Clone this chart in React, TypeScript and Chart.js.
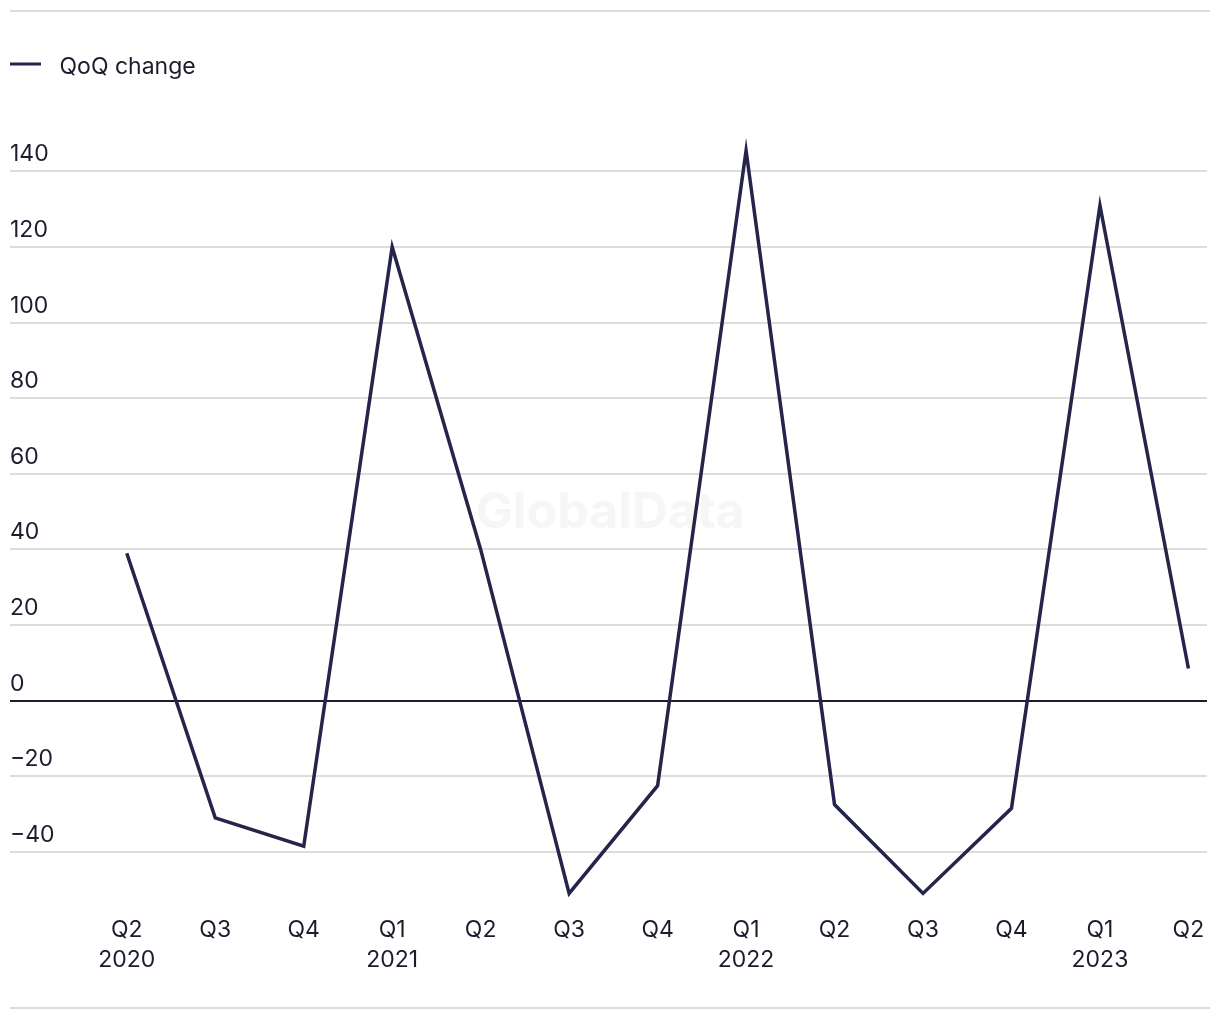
import React, { useEffect, useRef } from "react";
import { Chart, registerables } from "chart.js";

Chart.register(...registerables);

const quarterLabels: string[][] = [
  ["Q2", "2020"], ["Q3"], ["Q4"], ["Q1", "2021"], ["Q2"], ["Q3"], ["Q4"],
  ["Q1", "2022"], ["Q2"], ["Q3"], ["Q4"], ["Q1", "2023"], ["Q2"],
];
const qoqChange: number[] = [39, -31, -38.5, 120, 40, -51, -22.5, 145.5, -27.5, -51, -28.5, 131, 8.5];
const yTicks: number[] = [-40, -20, 0, 20, 40, 60, 80, 100, 120, 140];
const seriesName = "QoQ change";

const LINE = "#25254b";
const TEXT = "#1c1c2e";
const FONT = "Inter, 'Noto Sans', sans-serif";
const FS = 23;

export default function App() {
  const ref = useRef<HTMLCanvasElement | null>(null);

  useEffect(() => {
    if (!ref.current) return;
    const swatch = document.createElement("canvas");
    swatch.width = 38;
    swatch.height = 22;
    const sctx = swatch.getContext("2d")!;
    sctx.fillStyle = LINE;
    sctx.fillRect(0, 6, 31, 3);

    const decor = {
      id: "decor",
      beforeDatasetsDraw(chart: any) {
        const c = chart.ctx;
        c.save();
        c.fillStyle = "#f6f6f6";
        c.font = `bold 50px ${FONT}`;
        c.textAlign = "center";
        c.textBaseline = "alphabetic";
        c.fillText("GlobalData", 602, 520);
        c.restore();
      },
      afterDraw(chart: any) {
        const c = chart.ctx;
        c.save();
        c.fillStyle = "#dddddd";
        c.fillRect(2, 2, 1200, 2);
        c.fillRect(2, 999, 1200, 2);
        c.restore();
      },
    };

    const chart = new Chart(ref.current, {
      type: "line",
      data: {
        datasets: [
          {
            label: seriesName,
            data: qoqChange.map((v, i) => ({ x: i, y: v })),
            borderColor: LINE,
            backgroundColor: LINE,
            borderWidth: 3.5,
            pointRadius: 0,
            tension: 0,
            clip: false as any,
          },
        ],
      },
      options: {
        animation: false,
        responsive: false,
        layout: { padding: { left: 2, right: 5, top: 48, bottom: 34.2 } },
        font: { family: FONT, size: FS } as any,
        color: TEXT,
        plugins: {
          legend: {
            display: true,
            position: "top",
            align: "start",
            labels: {
              padding: 0,
              usePointStyle: true,
              pointStyle: swatch as any,
              pointStyleWidth: 38,
              boxHeight: FS,
              color: TEXT,
              font: { family: FONT, size: FS },
            },
          },
          tooltip: { enabled: false },
        },
        scales: {
          x: {
            type: "linear",
            min: -1.32,
            max: 12.21,
            grid: { display: false },
            border: { display: false },
            afterBuildTicks: (scale: any) => {
              scale.ticks = quarterLabels.map((_, i) => ({ value: i }));
            },
            ticks: {
              autoSkip: false,
              maxRotation: 0,
              padding: 2.9,
              color: TEXT,
              font: { family: FONT, size: FS, lineHeight: 30 / FS },
              callback: (v: any) => quarterLabels[v as number] ?? "",
            },
          },
          y: {
            min: -53.8,
            max: 161.79,
            border: { display: false },
            grid: {
              drawTicks: false,
              lineWidth: 2,
              color: (ctx: any) => (ctx.tick && ctx.tick.value === 0 ? "#1c1c2e" : "#dddddd"),
            },
            afterBuildTicks: (scale: any) => {
              scale.ticks = yTicks.map((v) => ({ value: v }));
            },
            ticks: {
              mirror: true,
              padding: 0,
              labelOffset: -17,
              color: TEXT,
              font: { family: FONT, size: FS },
              callback: (v: any) => ((v as number) < 0 ? "\u2212" + Math.abs(v as number) : String(v)),
            },
          },
        },
      },
      plugins: [decor],
    });
    return () => chart.destroy();
  }, []);

  return (
    <div style={{ width: 1204, height: 1004 }}>
      <canvas ref={ref} width={1204} height={1004} style={{ display: "block", width: 1204, height: 1004 }} />
    </div>
  );
}
